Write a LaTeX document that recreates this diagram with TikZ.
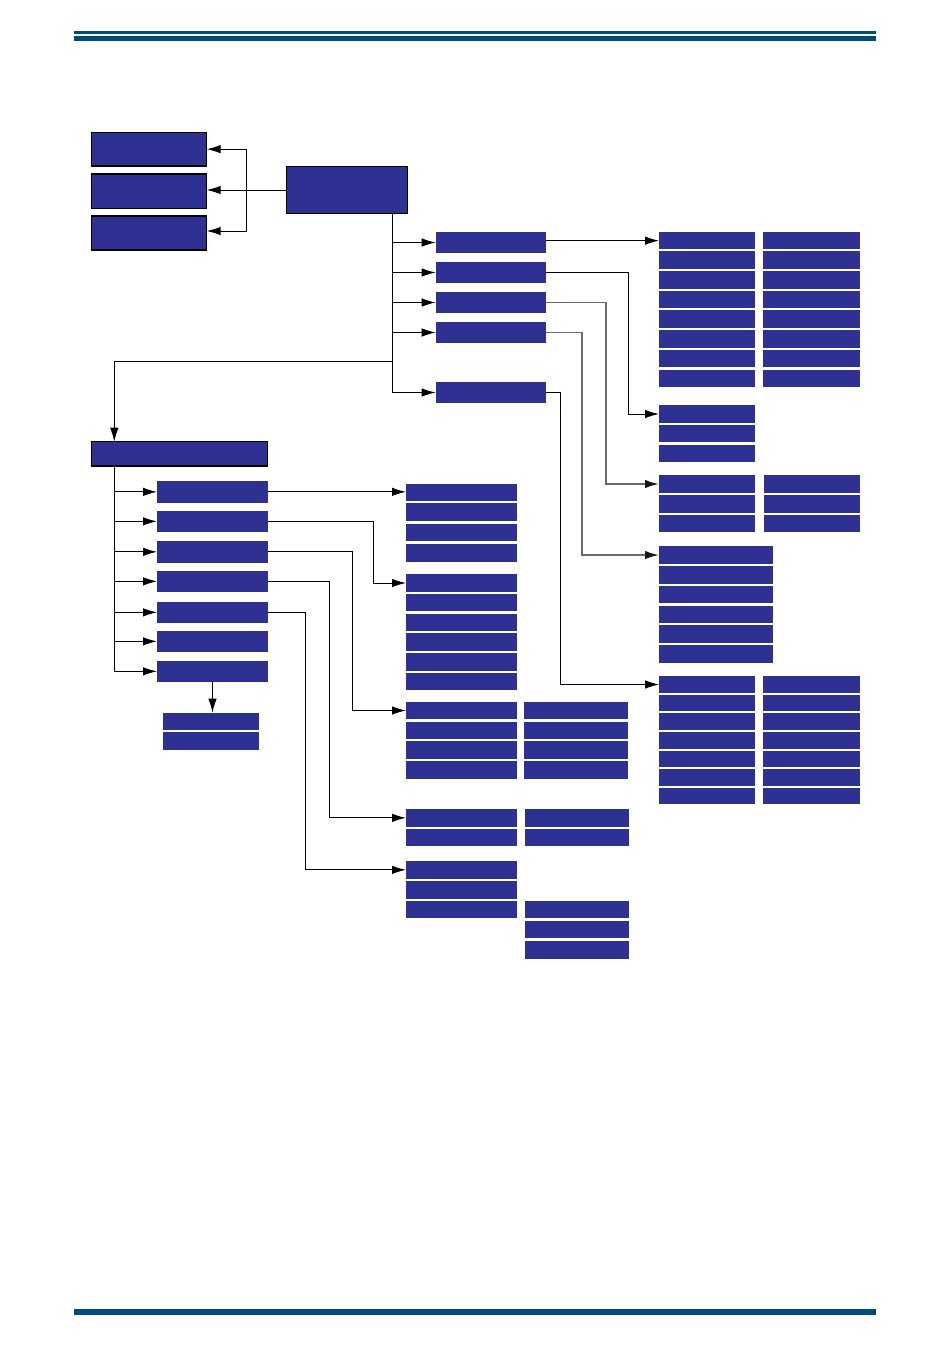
\documentclass[tikz,border=0pt]{standalone}
\usetikzlibrary{arrows.meta}
\definecolor{boxblue}{HTML}{2E3192}
\definecolor{rulecol}{HTML}{004B7C}
\definecolor{linegray}{HTML}{6A6A6A}
\tikzset{
  boxst/.style={fill=boxblue,draw=none,inner sep=0pt,outer sep=0pt},
  framed/.style={draw=black,line width=1.1pt},
  conn/.style={draw=black,line width=1pt,-{Latex[length=14pt,width=8.5pt]}},
  gconn/.style={draw=linegray,line width=1.7pt,-{Latex[length=14pt,width=8.5pt,color=black!90]}},
  plain/.style={draw=black,line width=0.9pt}
}
% \bx[opts]{x1}{y1}{x2}{y2}{name}
\newcommand\bx[6][]{\node[boxst,#1,minimum width={(#4-#2)*1pt},minimum height={(#5-#3)*1pt}] (#6) at ({(#2+#4)/2},{(#3+#5)/2}) {};}
\begin{document}
\begin{tikzpicture}[x=1pt,y=-1pt]
\useasboundingbox (0,0) rectangle (950,1360);
% rules
\fill[rulecol] (74,30.5) rectangle (876,33.5);
\fill[rulecol] (74,35.5) rectangle (876,40.5);
\fill[rulecol] (74,1308.5) rectangle (876,1315);
% top-left boxes
\bx[framed]{91.7}{132.3}{206.7}{166}{t1}
\bx[framed]{91.7}{174}{206.7}{208.3}{t2}
\bx[framed]{91.7}{216}{206.7}{250}{t3}
\bx[framed]{286.7}{166.7}{407.3}{213.3}{main}
% upper middle column
\bx{435.7}{232.3}{546}{252.7}{u1}
\bx{435.7}{262.3}{546}{282.7}{u2}
\bx{435.7}{292.3}{546}{312.7}{u3}
\bx{435.7}{322.3}{546}{342.7}{u4}
\bx{435.7}{382.3}{546}{402.7}{u5}
% group A (2 cols x 8)
\foreach \t/\b [count=\i] in {232.3/249,251/269,271/289,291/308,310/328,330/348,350/367,370/386.7}{
  \bx{659}{\t}{755}{\b}{A\i1}
  \bx{763}{\t}{860}{\b}{A\i2}
}
% group B
\foreach \t/\b [count=\i] in {405/423,425/442,445/462}{\bx{659}{\t}{755}{\b}{B\i}}
% group C
\foreach \t/\b [count=\i] in {475/493,495/513,515/532}{
  \bx{659}{\t}{755}{\b}{C\i1}
  \bx{764}{\t}{860}{\b}{C\i2}
}
% group D
\foreach \t/\b [count=\i] in {546/564,566/584,586/603,606/623,625/643,645/663}{\bx{659}{\t}{773}{\b}{D\i}}
% group E
\foreach \t/\b [count=\i] in {676/693,695/711,713/730,732/749,751/767,769/786,788/804}{
  \bx{659}{\t}{755}{\b}{E\i1}
  \bx{763}{\t}{860}{\b}{E\i2}
}
% left big box and sub boxes
\bx[framed]{91.7}{441.7}{267.3}{466}{L}
\foreach \t/\b [count=\i] in {481/502.7,511/531.7,541/562.7,571/591.7,602/622.7,631/651.7,661/681.7}{\bx{157}{\t}{268}{\b}{s\i}}
\bx{163}{712.7}{259}{730}{m1}
\bx{163}{732}{259}{750}{m2}
% group F
\foreach \t/\b [count=\i] in {484/501,503/521,524/541,544/561.7}{\bx{406}{\t}{517}{\b}{F\i}}
% group G
\foreach \t/\b [count=\i] in {574/592,594/611,614/631,633/651,653/671,673/690}{\bx{406}{\t}{517}{\b}{G\i}}
% group H
\foreach \t/\b [count=\i] in {702/719,722/739,741/759,761/778.7}{
  \bx{406}{\t}{517}{\b}{H\i1}
  \bx{524}{\t}{628}{\b}{H\i2}
}
% group I
\foreach \t/\b [count=\i] in {809/826.7,829/846}{
  \bx{406}{\t}{517}{\b}{I\i1}
  \bx{525}{\t}{629}{\b}{I\i2}
}
% group J
\foreach \t/\b [count=\i] in {861/878.7,881/898.7,901/918}{\bx{406}{\t}{517}{\b}{J\i1}}
\foreach \t/\b [count=\i] in {901/918,921/938,941/958.7}{\bx{525}{\t}{629}{\b}{J\i2}}
% junction coordinates
\coordinate (j0) at (246.7,190);
\coordinate (j1) at (392.5,213.3);
\coordinate (k) at (114.3,361.7);
\coordinate (jL) at (114.3,466);
\coordinate (xB) at (628.3,0);
\coordinate (xC) at (606,0);
\coordinate (xD) at (582,0);
\coordinate (xE) at (560.7,0);
\coordinate (xG) at (373.7,0);
\coordinate (xH) at (352.3,0);
\coordinate (xI) at (329.7,0);
\coordinate (xJ) at (305.3,0);
% connectors top-left
\draw[conn] (main.west) -- (main.west -| t2.east);
\draw[conn] (j0) |- (t1.east);
\draw[conn] (j0) |- ([yshift=2pt]t3.east);
% main down
\foreach \u in {u1,u2,u3,u4,u5}{\draw[conn] (j1) |- (\u.west);}
\draw[conn] (j1) |- (k) -- (k |- L.north);
% upper middle to right groups
\draw[conn] (u1.east |- A11.west) -- (A11.west);
\draw[conn] (u2.east) -| (xB |- B1.west) -- (B1.west);
\draw[gconn] (u3.east) -| (xC |- C11.west) -- (C11.west);
\draw[gconn] (u4.east) -| (xD |- D1.west) -- (D1.west);
\draw[conn] (u5.east) -| (xE |- E11.west) -- (E11.west);
% left column
\foreach \s in {s1,s2,s3,s4,s5,s6,s7}{\draw[conn] (jL) |- (\s.west);}
\draw[conn] (s7.south) -- (s7.south |- m1.north);
\draw[conn] (s1.east) -- (s1.east -| F1.west);
\draw[conn] (s2.east) -| (xG |- G1.west) -- (G1.west);
\draw[conn] (s3.east) -| (xH |- H11.west) -- (H11.west);
\draw[conn] (s4.east) -| (xI |- I11.west) -- (I11.west);
\draw[conn] (s5.east) -| (xJ |- J11.west) -- (J11.west);
\end{tikzpicture}
\end{document}
